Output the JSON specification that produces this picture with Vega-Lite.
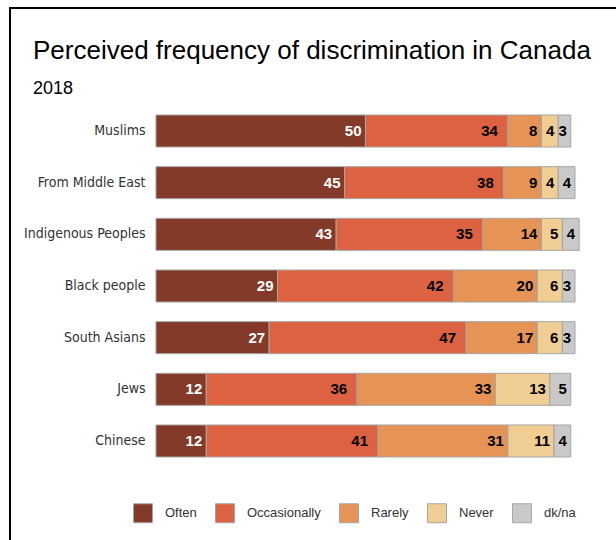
{
  "$schema": "https://vega.github.io/schema/vega-lite/v6.json",
  "width": 620,
  "height": 540,
  "autosize": {"type": "none"},
  "padding": {"left": 10, "top": 8, "right": 0, "bottom": 0},
  "background": "white",
  "config": {
    "view": {"stroke": "black", "strokeWidth": 2, "fill": "white"}
  },
  "title": {
    "text": "Perceived frequency of discrimination in Canada",
    "subtitle": "2018",
    "anchor": "start",
    "frame": "group",
    "dx": 23,
    "offset": -90,
    "font": "Liberation Sans, Arial, sans-serif",
    "fontSize": 26,
    "fontWeight": "normal",
    "color": "black",
    "subtitleFont": "Liberation Sans, Arial, sans-serif",
    "subtitleFontSize": 18,
    "subtitleColor": "black",
    "subtitlePadding": 16
  },
  "data": {
    "values": [
      {"group": "Muslims", "resp": "Often", "k": 1, "value": 50},
      {"group": "Muslims", "resp": "Occasionally", "k": 2, "value": 34},
      {"group": "Muslims", "resp": "Rarely", "k": 3, "value": 8},
      {"group": "Muslims", "resp": "Never", "k": 4, "value": 4},
      {"group": "Muslims", "resp": "dk/na", "k": 5, "value": 3},
      {"group": "From Middle East", "resp": "Often", "k": 1, "value": 45},
      {"group": "From Middle East", "resp": "Occasionally", "k": 2, "value": 38},
      {"group": "From Middle East", "resp": "Rarely", "k": 3, "value": 9},
      {"group": "From Middle East", "resp": "Never", "k": 4, "value": 4},
      {"group": "From Middle East", "resp": "dk/na", "k": 5, "value": 4},
      {"group": "Indigenous Peoples", "resp": "Often", "k": 1, "value": 43},
      {"group": "Indigenous Peoples", "resp": "Occasionally", "k": 2, "value": 35},
      {"group": "Indigenous Peoples", "resp": "Rarely", "k": 3, "value": 14},
      {"group": "Indigenous Peoples", "resp": "Never", "k": 4, "value": 5},
      {"group": "Indigenous Peoples", "resp": "dk/na", "k": 5, "value": 4},
      {"group": "Black people", "resp": "Often", "k": 1, "value": 29},
      {"group": "Black people", "resp": "Occasionally", "k": 2, "value": 42},
      {"group": "Black people", "resp": "Rarely", "k": 3, "value": 20},
      {"group": "Black people", "resp": "Never", "k": 4, "value": 6},
      {"group": "Black people", "resp": "dk/na", "k": 5, "value": 3},
      {"group": "South Asians", "resp": "Often", "k": 1, "value": 27},
      {"group": "South Asians", "resp": "Occasionally", "k": 2, "value": 47},
      {"group": "South Asians", "resp": "Rarely", "k": 3, "value": 17},
      {"group": "South Asians", "resp": "Never", "k": 4, "value": 6},
      {"group": "South Asians", "resp": "dk/na", "k": 5, "value": 3},
      {"group": "Jews", "resp": "Often", "k": 1, "value": 12},
      {"group": "Jews", "resp": "Occasionally", "k": 2, "value": 36},
      {"group": "Jews", "resp": "Rarely", "k": 3, "value": 33},
      {"group": "Jews", "resp": "Never", "k": 4, "value": 13},
      {"group": "Jews", "resp": "dk/na", "k": 5, "value": 5},
      {"group": "Chinese", "resp": "Often", "k": 1, "value": 12},
      {"group": "Chinese", "resp": "Occasionally", "k": 2, "value": 41},
      {"group": "Chinese", "resp": "Rarely", "k": 3, "value": 31},
      {"group": "Chinese", "resp": "Never", "k": 4, "value": 11},
      {"group": "Chinese", "resp": "dk/na", "k": 5, "value": 4}
    ]
  },
  "transform": [
    {"stack": "value", "groupby": ["group"], "sort": [{"field": "k", "order": "ascending"}], "as": ["v0", "v1"]}
  ],
  "encoding": {
    "y": {
      "field": "group",
      "type": "nominal",
      "sort": ["Muslims", "From Middle East", "Indigenous Peoples", "Black people", "South Asians", "Jews", "Chinese"],
      "scale": {"range": [97.17, 458.83], "paddingInner": 0.38, "paddingOuter": 0.19},
      "axis": {
        "title": null,
        "domain": false,
        "ticks": false,
        "tickSize": 0,
        "labelPadding": -135,
        "labelAlign": "right",
        "labelFont": "DejaVu Sans Condensed, sans-serif",
        "labelFontSize": 14,
        "labelColor": "#333333",
        "labelLimit": 300
      }
    }
  },
  "layer": [
    {
      "mark": {"type": "bar", "stroke": "#a6a6a6", "strokeWidth": 1},
      "encoding": {
        "x": {
          "field": "v0",
          "type": "quantitative",
          "scale": {"domain": [-34.84, 113.13], "nice": false, "zero": false},
          "axis": null
        },
        "x2": {"field": "v1"},
        "color": {
          "field": "resp",
          "type": "nominal",
          "scale": {
            "domain": ["Often", "Occasionally", "Rarely", "Never", "dk/na"],
            "range": ["#843a28", "#dc6242", "#e59455", "#f0cd92", "#c9c9c9"]
          },
          "legend": {
            "title": null,
            "orient": "none",
            "direction": "horizontal",
            "legendX": 123,
            "legendY": 495,
            "symbolType": "square",
            "symbolSize": 361,
            "symbolStrokeColor": "#a6a6a6",
            "symbolStrokeWidth": 1,
            "symbolOpacity": 1,
            "columnPadding": 16,
            "labelOffset": 12,
            "labelFont": "Liberation Sans, Arial, sans-serif",
            "labelFontSize": 13,
            "labelColor": "#333333"
          }
        }
      }
    },
    {
      "transform": [{"filter": "datum.resp === 'Occasionally'"}],
      "mark": {
        "type": "text",
        "align": "right",
        "baseline": "middle",
        "dx": -10,
        "font": "Liberation Sans, Arial, sans-serif",
        "fontSize": 15,
        "fontWeight": "bold",
        "color": "black"
      },
      "encoding": {
        "x": {"field": "v1", "type": "quantitative"},
        "text": {"field": "value", "type": "quantitative"}
      }
    },
    {
      "transform": [{"filter": "datum.resp !== 'Occasionally'"}],
      "mark": {
        "type": "text",
        "align": "right",
        "baseline": "middle",
        "dx": -4,
        "font": "Liberation Sans, Arial, sans-serif",
        "fontSize": 15,
        "fontWeight": "bold"
      },
      "encoding": {
        "x": {"field": "v1", "type": "quantitative"},
        "text": {"field": "value", "type": "quantitative"},
        "color": {
          "condition": {"test": "datum.resp === 'Often'", "value": "white"},
          "value": "black"
        }
      }
    }
  ]
}
